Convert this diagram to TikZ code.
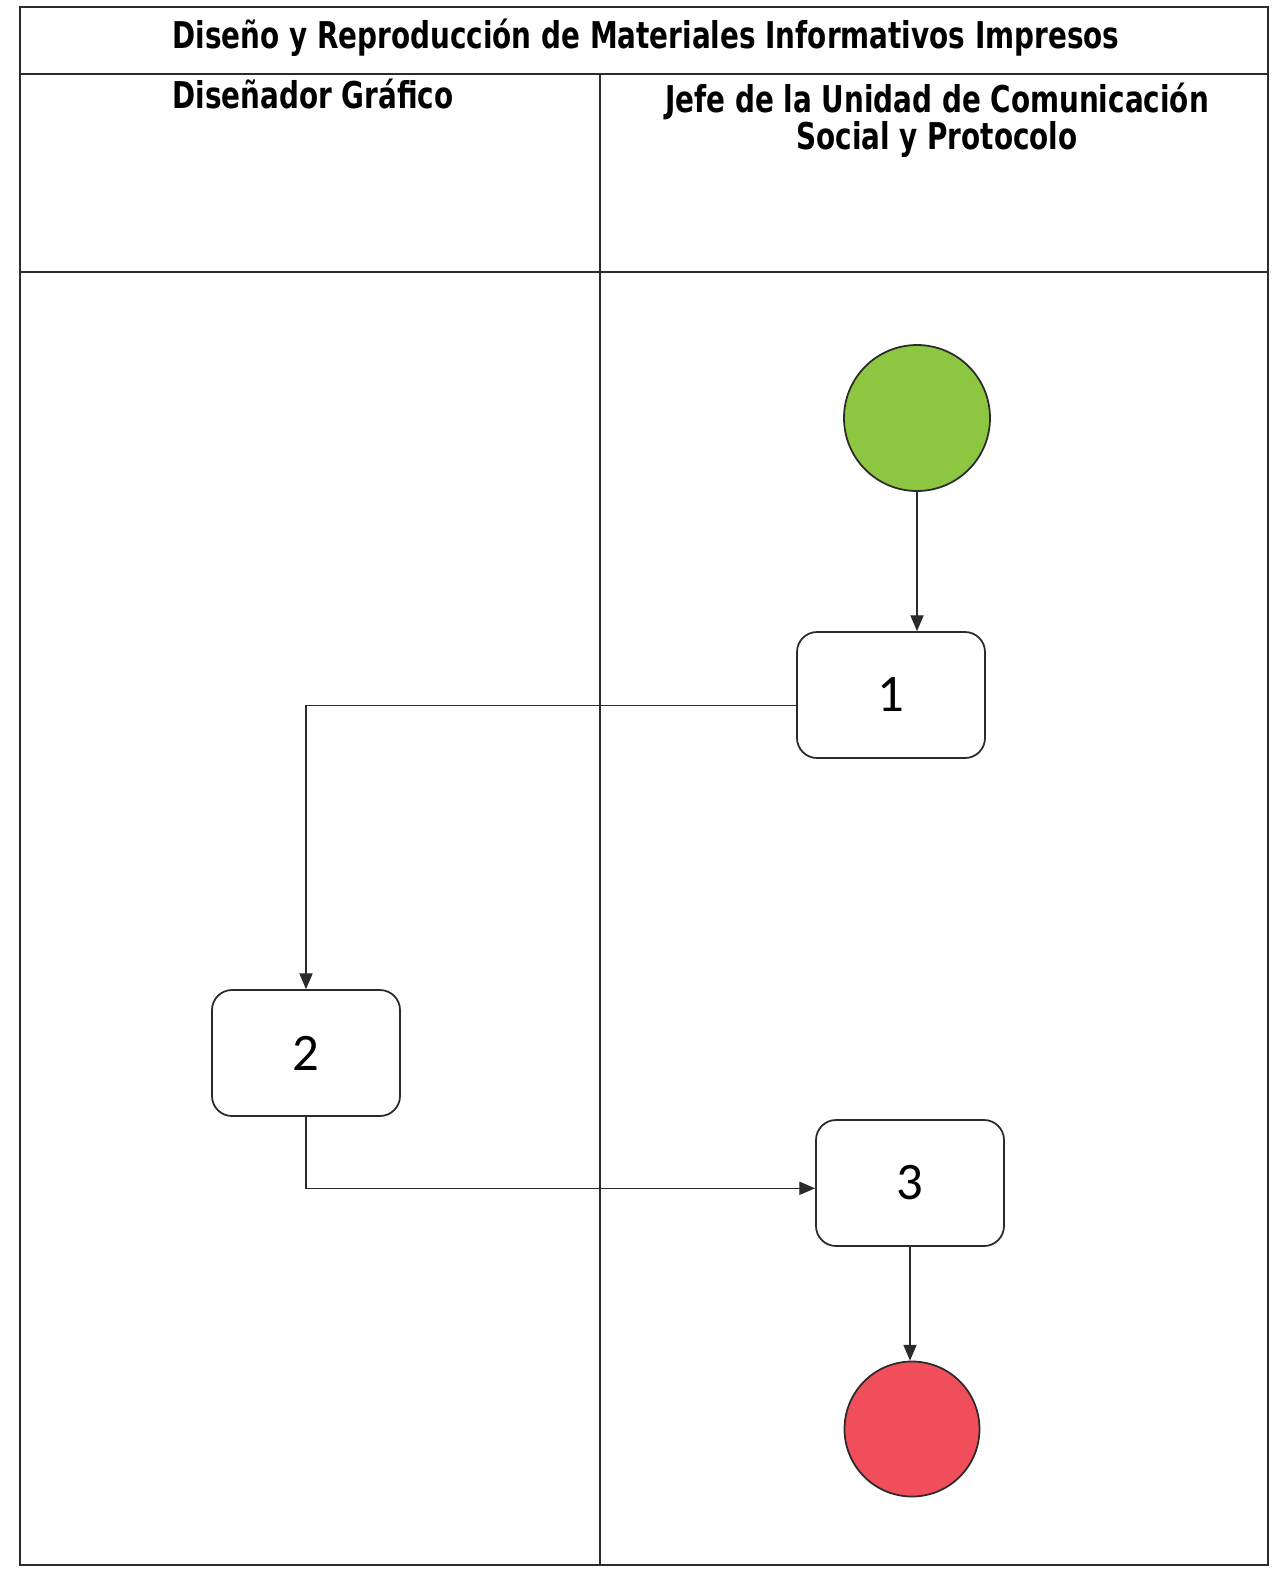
\documentclass[tikz,border=0pt]{standalone}
\usepackage{fontspec}
\usepackage{graphicx}
\setmainfont{DejaVu Sans}
\newfontfamily\digitfont{Carlito}
\usepackage{xcolor}
\definecolor{StartGreen}{HTML}{8DC641}
\definecolor{EndRed}{HTML}{F04E5B}
\definecolor{LineGray}{HTML}{2B2B2B}
\usepackage{tikz}
\usetikzlibrary{arrows.meta, positioning, calc}
% header text, squeezed like the scan
\newcommand{\hdrtext}[1]{\scalebox{0.755}[1]{\bfseries #1}}
\tikzset{
  % Frame styles
  lanebox/.style={draw=LineGray, line width=1.1pt},
  headtext/.style={font=\fontsize{21}{20}\selectfont, align=center, inner sep=0pt},
  % Box styles
  taskbox/.style={rectangle, rounded corners=0.4cm, draw=LineGray, line width=1pt, fill=white, minimum width=3.76cm, minimum height=2.52cm, font=\digitfont\fontsize{30}{30}\selectfont},
  startnode/.style={circle, draw=LineGray, line width=1pt, fill=StartGreen, minimum size=2.92cm, inner sep=0pt},
  endnode/.style={circle, draw=LineGray, line width=1pt, fill=EndRed, minimum size=2.7cm, inner sep=0pt},
  % Arrow styles
  arrow/.style={-{Triangle[length=9pt, width=7.5pt]}, line width=0.7pt, LineGray}
}
\begin{document}
\begin{tikzpicture}
  \useasboundingbox[fill=white] (0,0) rectangle (25.46,-31.42);

  % Lanes
  \draw[lanebox] (0.4,-0.14) rectangle (25.36,-31.3);
  \draw[lanebox] (0.4,-1.48) -- (25.36,-1.48);
  \draw[lanebox] (0.4,-5.44) -- (25.36,-5.44);
  \draw[lanebox] (12.0,-1.48) -- (12.0,-31.3);

  % Headings
  \node[headtext] (title) at (12.92,-0.76) {\hdrtext{Diseño y Reproducción de Materiales Informativos Impresos}};
  \node[headtext] (lanea) at (6.26,-1.88) {\hdrtext{Diseñador Gráfico}};
  \node[headtext] (laneb) at (18.74,-2.4) {\hdrtext{Jefe de la Unidad de Comunicación}\\ \hdrtext{Social y Protocolo}};

  % Flow
  \node[startnode] (start) at (18.34,-8.36) {};
  \node[taskbox] (one) at (17.82,-13.9) {1};
  \node[taskbox] (two) at (6.12,-21.06) {2};
  \node[taskbox] (three) at (18.2,-23.66) {3};
  \node[endnode] (stop) at (18.24,-28.58) {};

  \draw[arrow] (start) -- (start |- one.north);
  \draw[arrow] ([yshift=-6pt]one.west) -| (two.north);
  \draw[arrow] (two.south) |- ([yshift=-3pt]three.west);
  \draw[arrow] (three) -- (three |- stop.north);
\end{tikzpicture}
\end{document}
